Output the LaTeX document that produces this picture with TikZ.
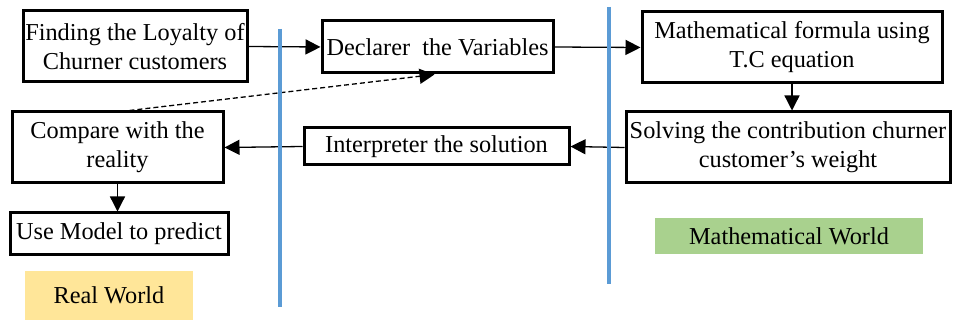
\documentclass[tikz,border=0pt]{standalone}
\usepackage{fontspec}
\setmainfont{Liberation Serif}
\usetikzlibrary{arrows.meta,calc}
\definecolor{sepblue}{HTML}{5B9BD5}
\definecolor{realfill}{HTML}{FFE699}
\definecolor{mathfill}{HTML}{A9D18E}
\tikzset{
  box/.style={draw=black,line width=3pt,inner sep=0pt,align=center,
    font=\fontsize{24.3}{29}\selectfont},
  arr/.style={line width=1.3pt,-{Triangle[length=15pt,width=15pt]}},
  world/.style={inner sep=0pt,font=\fontsize{24.3}{29}\selectfont},
  sep/.style={draw=sepblue,line width=3.2pt}
}
\begin{document}
\begin{tikzpicture}[x=1pt,y=-1pt]
\useasboundingbox (0,0) rectangle (953,320);
% boxes
\node[box,minimum width=224pt,minimum height=71pt] (find) at (135,46.5) {Finding the Loyalty of\\Churner customers};
\node[box,minimum width=231pt,minimum height=52pt] (decl) at (437.5,47) {Declarer\ \ the Variables};
\node[box,minimum width=300pt,minimum height=71pt] (math) at (792,47.5) {Mathematical formula using\\T.C equation};
\node[box,minimum width=324pt,minimum height=71pt] (solve) at (788,147.5) {Solving the contribution churner\\customer’s weight};
\node[box,minimum width=265pt,minimum height=37pt] (interp) at (436.5,146.5) {Interpreter the solution};
\node[box,minimum width=211pt,minimum height=71pt] (cmp) at (117.5,147.5) {Compare with the\\reality};
\node[box,minimum width=218pt,minimum height=42pt] (use) at (119,234) {Use Model to predict};
% world labels
\node[world,fill=realfill,minimum width=168pt,minimum height=49pt] (real) at (109,295.5) {Real World};
\node[world,fill=mathfill,minimum width=268pt,minimum height=36pt] (mworld) at (789,236) {Mathematical World};
% connectors
\draw[arr] (find.east) -- (decl.west);
\draw[arr] (decl.east) -- (math.west);
\draw[arr] (math.south) -- (math.south |- solve.north);
\draw[arr] (solve.west) -- (interp.east);
\draw[arr] (interp.west) -- (cmp.east);
\draw[arr] (cmp.south) -- (cmp.south |- use.north);
\draw[arr,dash pattern=on 5pt off 3pt] ([xshift=12pt]cmp.north) -- ([xshift=-3pt]decl.south);
% separators
\draw[sep] (280,29) -- (280,307);
\draw[sep] (609,7) -- (609,284);
\end{tikzpicture}
\end{document}
